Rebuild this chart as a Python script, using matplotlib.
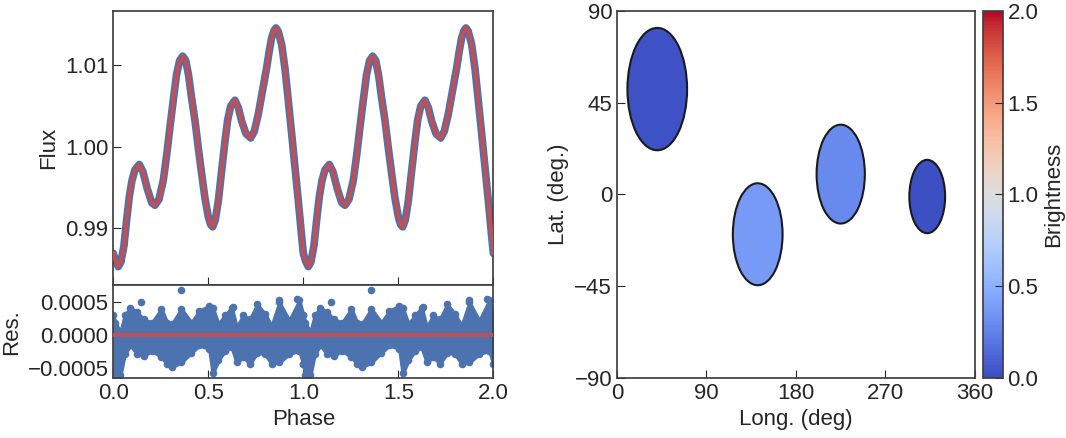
import numpy as np
import matplotlib
matplotlib.use("Agg")
import matplotlib.pyplot as plt
from matplotlib.patches import Ellipse
from matplotlib.ticker import FuncFormatter

# one rotation of the folded light curve (shown twice, phase 0-2)
phase = np.array([
    0.000, 0.012, 0.026, 0.040, 0.056, 0.070, 0.084, 0.098, 0.114, 0.137,
    0.156, 0.179, 0.202, 0.219, 0.240, 0.263, 0.281, 0.298, 0.316, 0.333,
    0.349, 0.365, 0.381, 0.396, 0.412, 0.430, 0.447, 0.465, 0.482, 0.500,
    0.512, 0.523, 0.537, 0.553, 0.570, 0.588, 0.602, 0.618, 0.640, 0.658,
    0.675, 0.698, 0.723, 0.742, 0.763, 0.786, 0.807, 0.821, 0.833, 0.846,
    0.856, 0.868, 0.886, 0.904, 0.921, 0.939, 0.956, 0.974, 0.991, 1.000])
flux = np.array([
    0.98686, 0.98590, 0.98522, 0.98580, 0.98780, 0.99094, 0.99380, 0.99580, 0.99715, 0.99780,
    0.99690, 0.99480, 0.99310, 0.99278, 0.99350, 0.99584, 0.99900, 1.00237, 1.00580, 1.00890,
    1.01060, 1.01114, 1.01060, 1.00880, 1.00600, 1.00318, 0.99990, 0.99665, 0.99370, 0.99135,
    0.99040, 0.99012, 0.99100, 0.99339, 0.99700, 1.00073, 1.00330, 1.00500, 1.00571, 1.00480,
    1.00318, 1.00160, 1.00106, 1.00190, 1.00400, 1.00700, 1.00971, 1.01180, 1.01339, 1.01430,
    1.01461, 1.01420, 1.01257, 1.00950, 1.00563, 1.00150, 0.99747, 0.99323, 0.98899, 0.98686])

# residual band (upper / lower edge of the points), units of 1e-4
res_phase = np.array([
    0.000, 0.011, 0.037, 0.060, 0.090, 0.125, 0.160, 0.204, 0.253, 0.283,
    0.309, 0.358, 0.411, 0.453, 0.505, 0.523, 0.553, 0.588, 0.623, 0.649,
    0.684, 0.719, 0.758, 0.798, 0.833, 0.874, 0.926, 0.979, 1.000])
res_hi = np.array([
    3.0, 1.9, 0.4, 3.0, 4.2, 3.5, 2.4, 1.9, 4.0, 1.9,
    1.7, 4.0, 1.9, 3.7, 4.5, 4.2, 1.7, 3.0, 4.2, 1.2,
    3.0, 2.4, 4.7, 3.2, 1.4, 5.0, 2.2, 5.3, 3.0])
res_lo = np.array([
    -4.5, -6.1, -6.2, -2.9, -1.6, -2.9, -3.2, -2.4, -3.4, -4.4,
    -4.9, -4.2, -2.7, -1.6, -2.1, -5.9, -3.9, -2.4, -1.9, -4.2,
    -3.4, -4.4, -2.7, -2.9, -4.4, -4.2, -2.9, -2.4, -4.5])
out_phase = np.array([0.144, 0.358, 0.628, 0.874, 0.965])
out_res = np.array([5.0, 6.9, 4.3, 5.4, 5.5])
res_unit = 1e-4

# starspots: longitude, latitude, diameter (deg), brightness
spot_lon = [40.5, 141.5, 225.0, 312.0]
spot_lat = [51.7, -19.5, 10.0, -1.0]
spot_size = [60.0, 50.0, 48.5, 36.0]
spot_bright = [0.03, 0.38, 0.29, 0.02]

BLUE = "#4c72b0"
RED = "#c44e52"
INK = "0.15"

plt.rcParams["font.family"] = ["Liberation Sans", "DejaVu Sans"]
plt.rcParams["font.size"] = 16
plt.rcParams["text.color"] = INK
plt.rcParams["axes.labelcolor"] = INK
plt.rcParams["axes.edgecolor"] = "0.25"
plt.rcParams["axes.linewidth"] = 1.25
plt.rcParams["xtick.color"] = INK
plt.rcParams["ytick.color"] = INK
plt.rcParams["xtick.direction"] = "in"
plt.rcParams["ytick.direction"] = "in"
plt.rcParams["xtick.major.size"] = 6
plt.rcParams["ytick.major.size"] = 6
plt.rcParams["axes.unicode_minus"] = True


def two_cycles(p, v):
    return np.concatenate([p, p + 1]), np.concatenate([v, v])


fig = plt.figure(figsize=(10.66, 4.38), dpi=100)
ax_lc = fig.add_axes([0.1063, 0.3482, 0.3565, 0.6267])
ax_res = fig.add_axes([0.1063, 0.1370, 0.3565, 0.2112])
ax_map = fig.add_axes([0.5788, 0.1370, 0.3358, 0.8379])
cax = fig.add_axes([0.9224, 0.1370, 0.0182, 0.8379])

# light curve
px, fx = two_cycles(phase, flux)
ax_lc.plot(px, fx, color=BLUE, lw=5.5, solid_capstyle="round", zorder=2)
ax_lc.plot(px, fx, color=RED, lw=2.8, zorder=3)
ax_lc.set_xlim(0, 2)
ax_lc.set_ylim(0.9829, 1.0167)
ax_lc.set_yticks([0.99, 1.00, 1.01])
ax_lc.set_yticklabels(["0.99", "1.00", "1.01"])
ax_lc.set_xticks([0, 0.5, 1.0, 1.5, 2.0])
ax_lc.tick_params(labelbottom=False)
ax_lc.set_ylabel("Flux")

# residuals
rp, rh = two_cycles(res_phase, res_hi)
_, rl = two_cycles(res_phase, res_lo)
ax_res.fill_between(rp, rl * res_unit, rh * res_unit, color=BLUE, lw=2.5,
                    edgecolor=BLUE, zorder=2)
ax_res.scatter(rp, rh * res_unit, s=30, color=BLUE, lw=0, zorder=2)
ax_res.scatter(rp, rl * res_unit, s=30, color=BLUE, lw=0, zorder=2)
op, orr = two_cycles(out_phase, out_res)
ax_res.scatter(op, orr * res_unit, s=30, color=BLUE, lw=0, zorder=2)
ax_res.axhline(0, color=RED, lw=2.8, zorder=3)
ax_res.set_xlim(0, 2)
ax_res.set_ylim(-0.00066, 0.00076)
ax_res.set_xticks([0, 0.5, 1.0, 1.5, 2.0])
ax_res.set_yticks([-0.0005, 0.0, 0.0005])
ax_res.yaxis.set_major_formatter(
    FuncFormatter(lambda v, pos: f"{v:.4f}".replace("-", "\u2212")))
ax_res.xaxis.set_major_formatter(FuncFormatter(lambda v, pos: f"{v:.1f}"))
ax_res.set_xlabel("Phase")
ax_res.set_ylabel("Res.")

# spot map
cmap = plt.get_cmap("coolwarm")
norm = matplotlib.colors.Normalize(vmin=0, vmax=2)
for lon, lat, d, b in zip(spot_lon, spot_lat, spot_size, spot_bright):
    ax_map.add_patch(Ellipse((lon, lat), d, d, facecolor=cmap(norm(b)),
                             edgecolor="0.1", lw=1.5))
ax_map.set_xlim(0, 360)
ax_map.set_ylim(-90, 90)
ax_map.set_xticks([0, 90, 180, 270, 360])
ax_map.set_yticks([-90, -45, 0, 45, 90])
ax_map.set_xlabel("Long. (deg)")
ax_map.set_ylabel("Lat. (deg.)")

sm = matplotlib.cm.ScalarMappable(norm=norm, cmap=cmap)
cb = fig.colorbar(sm, cax=cax, ticks=[0, 0.5, 1.0, 1.5, 2.0])
cb.ax.yaxis.set_major_formatter(FuncFormatter(lambda v, pos: f"{v:.1f}"))
cb.ax.tick_params(direction="in", length=6)
cb.outline.set_edgecolor("0.25")
cb.outline.set_linewidth(1.25)
cb.set_label("Brightness", labelpad=3)

fig.savefig("out.png", dpi=100)
